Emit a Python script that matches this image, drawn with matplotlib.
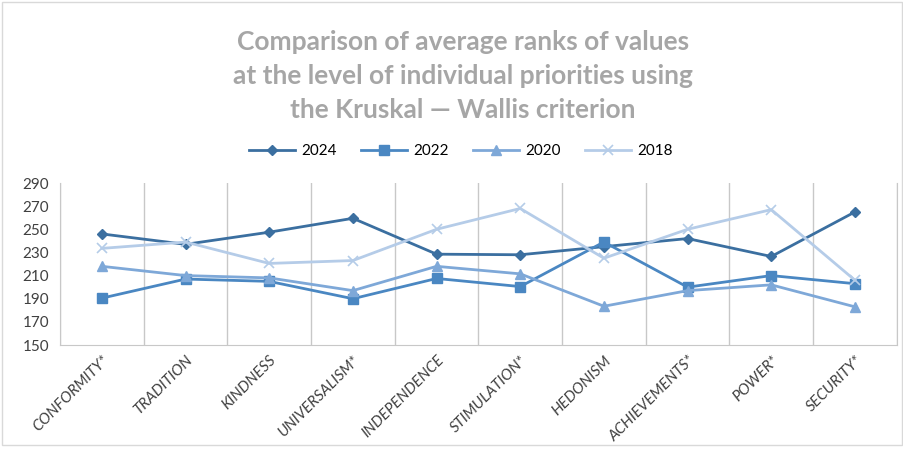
import numpy as np
import matplotlib.pyplot as plt
from matplotlib.patches import Rectangle

categories = ["CONFORMITY*", "TRADITION", "KINDNESS", "UNIVERSALISM*", "INDEPENDENCE",
              "STIMULATION*", "HEDONISM", "ACHIEVEMENTS*", "POWER*", "SECURITY*"]
y2024 = [246, 237, 247.5, 259.5, 228.5, 228, 235, 242, 226.5, 265]
y2022 = [190.5, 207, 205, 190, 207.5, 200.5, 239, 200, 210, 203]
y2020 = [218, 210, 208, 197, 218, 211.5, 183.5, 197, 202, 183]
y2018 = [233.5, 239, 220.5, 223, 250, 268, 225, 250, 267, 206]

plt.rcParams["font.family"] = ["Lato", "DejaVu Sans"]

fig = plt.figure(figsize=(9.04, 4.49), dpi=100)
ax = fig.add_axes([0.0664, 0.2316, 0.9256, 0.3608])

x = np.arange(len(categories))
ax.plot(x, y2024, color="#3B6FA0", marker="D", markersize=5, lw=2, label="2024")
ax.plot(x, y2022, color="#4A87C2", marker="s", markersize=7, lw=2, label="2022")
ax.plot(x, y2020, color="#7EA8D8", marker="^", markersize=7, lw=2, label="2020")
ax.plot(x, y2018, color="#B5CCE8", marker="x", markersize=7, mew=1.2, lw=2, label="2018")

ax.set_xlim(-0.5, len(categories) - 0.5)
ax.set_ylim(150, 290)
ax.set_yticks(np.arange(150, 291, 20))
ax.set_xticks(x)
ax.set_xticklabels(categories, rotation=45, ha="right", rotation_mode="anchor",
                   style="italic", fontsize=11)
ax.set_xticks(np.arange(-0.5, len(categories)), minor=True)
ax.grid(True, which="minor", axis="x", color="#C8C8C8", lw=1)
ax.tick_params(axis="both", which="both", length=0, labelsize=11, colors="#404040")
ax.tick_params(axis="x", pad=6)
ax.tick_params(axis="y", pad=8)
ax.spines["top"].set_visible(False)
for s in ["left", "right", "bottom"]:
    ax.spines[s].set_color("#C8C8C8")

fig.text(0.512, 0.831,
         "Comparison of average ranks of values\nat the level of individual priorities using\nthe Kruskal \u2014 Wallis criterion",
         ha="center", va="center", fontsize=19, fontweight="bold", color="#A6A6A6",
         linespacing=1.5)

ax.legend(loc="center", bbox_to_anchor=(0.51, 0.663), bbox_transform=fig.transFigure,
          ncol=4, frameon=False, fontsize=11, handlelength=3, columnspacing=1.6,
          handletextpad=0.4)

fig.patches.append(Rectangle((0.002, 0.01), 0.996, 0.985, transform=fig.transFigure,
                             fill=False, edgecolor="#D9D9D9", lw=1))

fig.savefig("out.png", dpi=100)
plt.close(fig)
